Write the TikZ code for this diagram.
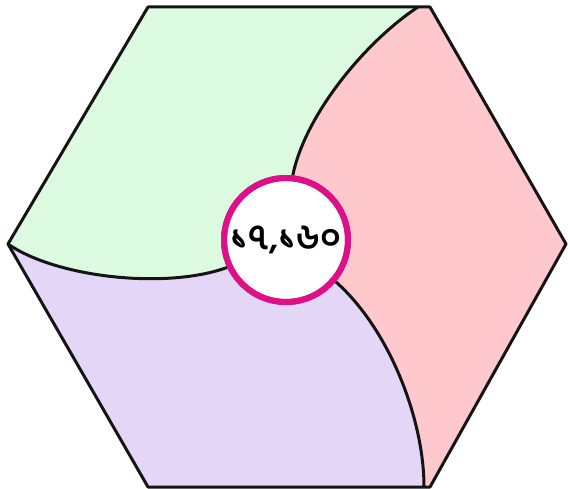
\documentclass[tikz,border=0pt]{standalone}
\usepackage{fontspec}
\newfontfamily\bengalifont[Script=Bengali]{Hind Siliguri}
\usetikzlibrary{positioning}
\definecolor{leafgreen}{RGB}{220,250,223}
\definecolor{leafpink}{RGB}{255,200,204}
\definecolor{leafpurple}{RGB}{228,214,247}
\definecolor{ringmagenta}{RGB}{222,16,135}
\definecolor{edgeblack}{RGB}{20,20,20}

\begin{document}
\begin{tikzpicture}[x=0.02cm, y=-0.02cm,
    edgeline/.style={draw=edgeblack, line width=0.06cm, line join=round},
    ringstyle/.style={circle, draw=ringmagenta, line width=0.12cm, minimum size=2.48cm, inner sep=0pt}]
        \useasboundingbox (0,0) rectangle (568,489);
        % Hexagon corners and seam ends
        \coordinate (hl) at (8,244);
        \coordinate (htl) at (148,7);
        \coordinate (htr) at (430,7);
        \coordinate (hr) at (566,244);
        \coordinate (hbr) at (430,487);
        \coordinate (hbl) at (148,487);
        \coordinate (seamtop) at (418,7);
        \coordinate (seambot) at (424,487);
        \coordinate (mid) at (286,240);
        % Purple base fill
        \fill[leafpurple] (hl) -- (htl) -- (htr) -- (hr) -- (hbr) -- (hbl) -- cycle;
        % Green sector
        \fill[leafgreen] (hl) -- (htl) -- (seamtop) .. controls (365,42) and (305,115) .. (292,176) -- (mid) -- (225,268) .. controls (165,290) and (55,277) .. (hl) -- cycle;
        % Pink sector
        \fill[leafpink] (seamtop) -- (htr) -- (hr) -- (hbr) -- (seambot) .. controls (424,420) and (390,330) .. (335,282) -- (mid) -- (292,176) .. controls (305,115) and (365,42) .. (seamtop) -- cycle;
        % Count bubble
        \node[ringstyle, fill=white, font=\bengalifont\fontsize{20}{24}\selectfont\bfseries] (count) at (mid) {১৭,১৬০};
        % Seams from corners to bubble
        \draw[edgeline] (seamtop) .. controls (365,42) and (305,115) .. (count.84);
        \draw[edgeline] (hl) .. controls (55,277) and (165,290) .. (count.205);
        \draw[edgeline] (seambot) .. controls (424,420) and (390,330) .. (count.320);
        % Hexagon outline
        \draw[edgeline] (hl) -- (htl) -- (htr) -- (hr) -- (hbr) -- (hbl) -- cycle;
        % Bubble ring on top
        \node[ringstyle] (ring) at (mid) {};
    \end{tikzpicture}
\end{document}
